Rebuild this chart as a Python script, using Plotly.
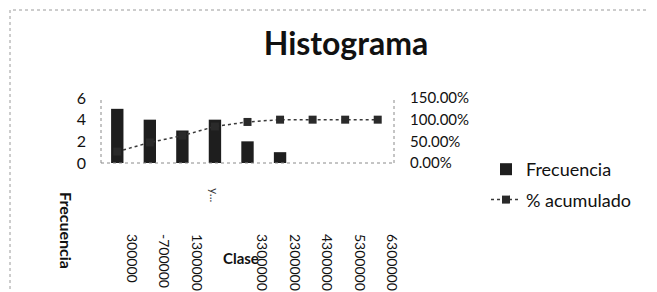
import plotly.graph_objects as go

# ---- data ----
class_labels = ["300000", "-700000", "1300000", "", "3300000", "2300000", "4300000", "5300000", "6300000"]
frecuencia = [5, 4, 3, 4, 2, 1, 0, 0, 0]
pct_acumulado = [0.2632, 0.4737, 0.6316, 0.8421, 0.9474, 1.0, 1.0, 1.0, 1.0]
y_ticks = [0, 2, 4, 6]
y2_ticks = [0, 0.5, 1.0, 1.5]

# ---- layout constants (pixels) ----
W, H = 657, 292
PL, PR, PT, PB = 93, 386, 90, 155
pw, ph = PR - PL, PB - PT


def px(x):
    return (x - PL) / pw


def py(y):
    return (PB - y) / ph


FONT = "Lato"
idx = list(range(len(class_labels)))

fig = go.Figure()
fig.add_trace(go.Bar(
    x=idx, y=frecuencia, name="Frecuencia", width=0.38,
    marker=dict(color="#1e1e1e", line=dict(width=0)),
    legendgroup="a",
))
fig.add_trace(go.Scatter(
    x=idx, y=pct_acumulado, name="% acumulado", yaxis="y2",
    mode="lines+markers",
    line=dict(color="#3a3a3a", width=1.5, dash="dot"),
    marker=dict(symbol="square", size=8, color="#2a2a2a"),
    legendgroup="b",
))

dot = dict(color="#8a8a8a", width=1, dash="dot")
shapes = [
    dict(type="line", xref="paper", yref="paper", x0=0, x1=0, y0=0, y1=1, line=dot),
    dict(type="line", xref="paper", yref="paper", x0=1, x1=1, y0=0, y1=1, line=dot),
    dict(type="line", xref="paper", yref="paper", x0=0, x1=1, y0=0, y1=0, line=dot),
    dict(type="rect", xref="paper", yref="paper", x0=px(2), x1=px(656), y0=py(290), y1=py(2),
         line=dict(color="#9a9a9a", width=1, dash="dot")),
]

annotations = [
    dict(text="<b>Frecuencia</b>", xref="paper", yref="paper", x=px(59), y=py(222),
         xanchor="center", yanchor="middle",
         textangle=90, showarrow=False, font=dict(family=FONT, size=16, color="#111")),
    dict(text="<b>Clase</b>", xref="paper", yref="paper", x=px(233), y=py(250),
         xanchor="center", yanchor="middle",
         showarrow=False, font=dict(family=FONT, size=15, color="#111")),
    dict(text="y...", xref="x", yref="paper", x=3, y=py(187),
         xanchor="center", yanchor="middle",
         textangle=90, showarrow=False, font=dict(family=FONT, size=12, color="#333")),
]

fig.update_layout(
    width=W, height=H, autosize=False,
    margin=dict(l=PL, r=W - PR, t=PT, b=H - PB, pad=0, autoexpand=False),
    paper_bgcolor="white", plot_bgcolor="white",
    font=dict(family=FONT, size=15, color="#111"),
    title=dict(text="<b>Histograma</b>", x=338 / W, y=1 - 36 / H, xref="container", yref="container",
               xanchor="center", yanchor="middle", font=dict(family=FONT, size=32, color="#111")),
    xaxis=dict(range=[-0.5, len(class_labels) - 0.5], tickvals=idx, ticktext=class_labels,
               tickangle=90, showgrid=False, zeroline=False, showline=False, ticks="",
               ticklabelshift=14, ticklabelstandoff=70, tickfont=dict(size=14), automargin=False),
    yaxis=dict(range=[0, 6], tickvals=y_ticks, showgrid=False, zeroline=False, showline=False,
               ticks="", ticklabelstandoff=14, tickfont=dict(size=16), automargin=False),
    yaxis2=dict(range=[0, 1.5], tickvals=y2_ticks, tickformat=".2%", overlaying="y", side="right",
                showgrid=False, zeroline=False, showline=False, ticks="", ticklabelstandoff=15,
                tickfont=dict(size=15), automargin=False),
    legend=dict(x=px(478), y=py(143), xanchor="left", yanchor="top", font=dict(size=18),
                tracegroupgap=4, bgcolor="rgba(0,0,0,0)", maxheight=200),
    showlegend=True,
    shapes=shapes,
    annotations=annotations,
)

fig.write_html("out.html")
